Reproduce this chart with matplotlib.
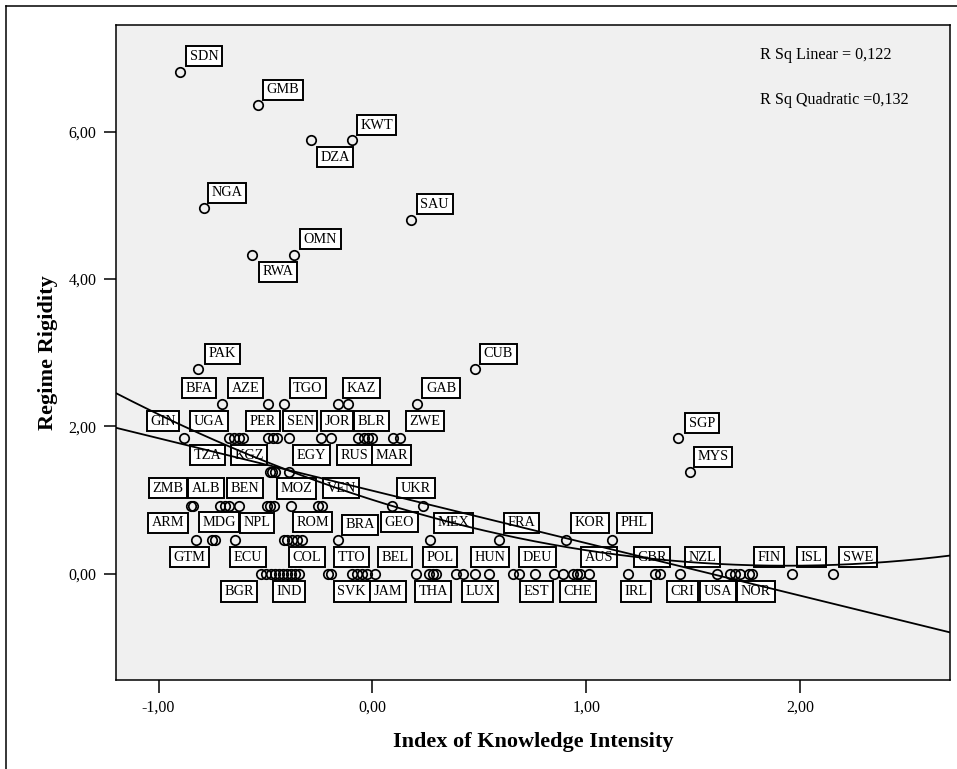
import numpy as np
import matplotlib
matplotlib.use("Agg")
import matplotlib.pyplot as plt
from matplotlib.lines import Line2D

# ---------------- data ----------------
# '' = point shown without a label
countries = [
    'SDN', 'GMB', 'DZA', 'KWT', 'NGA', 'SAU', 'RWA', 'OMN', 'PAK', 'CUB', 'SGP', 'MYS',
    # 2,30
    'BFA', 'AZE', 'TGO', 'KAZ', '', 'GAB',
    # 1,84
    'GIN', 'TZA', 'UGA', 'PER', '', 'KGZ', '', 'SEN', 'EGY', 'JOR', 'RUS', 'BLR', '', 'MAR', '', '', 'ZWE',
    # 1,38
    '', '', 'MOZ', '',
    # 0,92
    'ZMB', 'MDG', 'BEN', '', 'ALB', '', '', '', '', 'ROM', 'VEN', '', 'UKR', 'GEO',
    # 0,46
    'ARM', 'GTM', '', 'NPL', '', '', '', '', '', 'BRA', 'MEX', 'FRA', 'KOR', 'PHL',
    # 0,00
    'BGR', 'IND', 'ECU', '', '', 'COL', '', '', '', '', 'TTO', 'SVK', '', '', '', 'JAM', 'BEL',
    'POL', '', '', '', 'THA', 'HUN', '', 'LUX', 'DEU', 'EST', '', 'CHE', '', '', 'AUS', '', '',
    'GBR', 'IRL', 'CRI', 'NZL', 'USA', '', 'NOR', '', 'FIN', '', 'ISL', 'SWE',
]
knowledge = [
    -0.900, -0.536, -0.287, -0.095, -0.789, 0.179, -0.563, -0.365, -0.814, 0.480, 1.431, 1.486,
    -0.703, -0.488, -0.414, -0.161, -0.114, 0.209,
    -0.881, -0.671, -0.647, -0.624, -0.605, -0.488, -0.465, -0.446, -0.390, -0.240, -0.194, -0.067, -0.039, -0.021, -0.002, 0.096, 0.129,
    -0.479, -0.470, -0.456, -0.390,
    -0.848, -0.839, -0.713, -0.690, -0.671, -0.624, -0.493, -0.479, -0.460, -0.381, -0.254, -0.236, 0.092, 0.237,
    -0.825, -0.750, -0.736, -0.643, -0.413, -0.400, -0.376, -0.353, -0.329, -0.161, 0.270, 0.593, 0.906, 1.121,
    -0.521, -0.498, -0.475, -0.456, -0.437, -0.418, -0.400, -0.381, -0.362, -0.343, -0.208, -0.194, -0.095, -0.072, -0.049, -0.025, 0.012,
    0.204, 0.265, 0.283, 0.297, 0.391, 0.424, 0.480, 0.546, 0.659, 0.687, 0.761, 0.850, 0.892, 0.939, 0.957, 0.971, 1.014,
    1.196, 1.322, 1.346, 1.439, 1.612, 1.673, 1.696, 1.720, 1.762, 1.776, 1.963, 2.154,
]
rigidity = (
    [6.81, 6.37, 5.89, 5.89, 4.97, 4.80, 4.33, 4.33, 2.78, 2.78, 1.84, 1.38]
    + [2.30] * 6
    + [1.84] * 17
    + [1.38] * 4
    + [0.92] * 14
    + [0.46] * 14
    + [0.00] * 46
)

x_ticks = [-1, 0, 1, 2]
x_tick_labels = ['-1,00', '0,00', '1,00', '2,00']
y_ticks = [0, 2, 4, 6]
y_tick_labels = ['0,00', '2,00', '4,00', '6,00']
fit_texts = ['R Sq Linear = 0,122', 'R Sq Quadratic =0,132']

# label placement offsets (pixels) relative to their point
label_offsets = {
    'SDN': (24, 16), 'GMB': (25, 15), 'KWT': (24.5, 15), 'DZA': (24, -17), 'NGA': (23, 15),
    'SAU': (24, 16), 'OMN': (26, 15.5), 'RWA': (26, -17), 'PAK': (24, 15), 'CUB': (23.5, 15),
    'SGP': (23.5, 15), 'MYS': (23, 15),
    'BFA': (-23, 16), 'AZE': (-22.5, 16), 'TGO': (24, 16), 'KAZ': (23.7, 16), 'GAB': (24, 16),
    'GIN': (-21, 17), 'UGA': (-25, 17), 'PER': (24, 17), 'SEN': (23, 17), 'JOR': (16, 17),
    'BLR': (13, 17), 'ZWE': (25, 17), 'TZA': (-21, -17), 'KGZ': (-19, -17), 'EGY': (22.5, -17),
    'RUS': (24, -17), 'MAR': (23.5, -17),
    'MOZ': (21.7, -16.5),
    'ZMB': (-23, 17.5), 'ALB': (-23, 17.5), 'BEN': (25, 17.5), 'VEN': (23, 17.5), 'UKR': (24, 17.5),
    'MDG': (26, -16.5), 'ROM': (21.5, -16.5), 'GEO': (-23.5, -16.5),
    'ARM': (-28, 17), 'NPL': (22.5, 17), 'BRA': (22, 15), 'MEX': (23.7, 17), 'FRA': (22, 17),
    'KOR': (24, 17), 'PHL': (22.5, 17), 'GTM': (-22.5, -17.5),
    'ECU': (-23, 16.5), 'COL': (24, 16.5), 'TTO': (23.7, 16.5), 'BEL': (20, 16.5), 'POL': (23.7, 16.5),
    'HUN': (26.7, 16.5), 'DEU': (24, 16.5), 'AUS': (22, 16.5), 'GBR': (24, 16.5), 'NZL': (22.7, 16.5),
    'FIN': (20, 16.5), 'ISL': (19, 16.5), 'SWE': (25, 16.5),
    'BGR': (-22, -18), 'IND': (23, -18), 'SVK': (20.7, -18), 'JAM': (21, -18), 'THA': (-23, -18),
    'LUX': (-9, -18), 'EST': (17, -18), 'CHE': (23.5, -18), 'IRL': (-19, -18), 'CRI': (22, -18),
    'USA': (1, -18), 'NOR': (21, -18),
}

# ---------------- figure ----------------
SERIF = ['Liberation Serif', 'DejaVu Serif']
plt.rcParams['font.family'] = SERIF

fig = plt.figure(figsize=(9.57, 7.69), dpi=100)
fig.patch.set_facecolor('white')
ax = fig.add_axes([116 / 957, 1 - 680 / 769, 834 / 957, 655.5 / 769])
ax.set_facecolor('#F0F0F0')
ax.set_xlim(-1.199, 2.701)
ax.set_ylim(-1.447, 7.46)

for s in ax.spines.values():
    s.set_linewidth(1.1)
    s.set_color('black')

ax.set_xticks(x_ticks)
ax.set_xticklabels(x_tick_labels)
ax.set_yticks(y_ticks)
ax.set_yticklabels(y_tick_labels)
ax.tick_params(direction='out', length=9, width=1.1, labelsize=11.5, pad=5, colors='black')

ax.set_xlabel('Index of Knowledge Intensity', fontsize=16, fontweight='bold', labelpad=12)
ax.set_ylabel('Regime Rigidity', fontsize=16, fontweight='bold', labelpad=7.5)

x = np.array(knowledge)
y = np.array(rigidity)

# points
ax.plot(x, y, linestyle='none', marker='o', markersize=6.8, markeredgewidth=1.25,
        markerfacecolor='none', markeredgecolor='black', zorder=5)

# labels
for code, xi, yi in zip(countries, knowledge, rigidity):
    if not code:
        continue
    dx, dy = label_offsets[code]
    ax.annotate(code, (xi, yi), xytext=(dx, dy), textcoords='offset pixels',
                ha='center', va='center', fontsize=10.3, color='black',
                bbox=dict(boxstyle='square,pad=0.25', fc='white', ec='black', lw=1.4),
                zorder=3, annotation_clip=False)

# fit lines
xs = np.linspace(-1.199, 2.701, 300)
lin = np.polyfit(x, y, 1)
quad = np.polyfit(x, y, 2)
ax.plot(xs, np.polyval(lin, xs), color='black', lw=1.3, zorder=4)
ax.plot(xs, np.polyval(quad, xs), color='black', lw=1.3, zorder=4)

# R Sq texts
ax.text(0.772, 0.953, fit_texts[0], transform=ax.transAxes, ha='left', va='center', fontsize=11.6)
ax.text(0.772, 0.885, fit_texts[1], transform=ax.transAxes, ha='left', va='center', fontsize=11.6)

# outer frame (left and top)
fig.add_artist(Line2D([6 / 957, 6 / 957], [0, 1 - 6 / 769], transform=fig.transFigure, color='black', lw=1.1))
fig.add_artist(Line2D([6 / 957, 1], [1 - 6 / 769, 1 - 6 / 769], transform=fig.transFigure, color='black', lw=1.1))

fig.savefig('out.png', dpi=100)
